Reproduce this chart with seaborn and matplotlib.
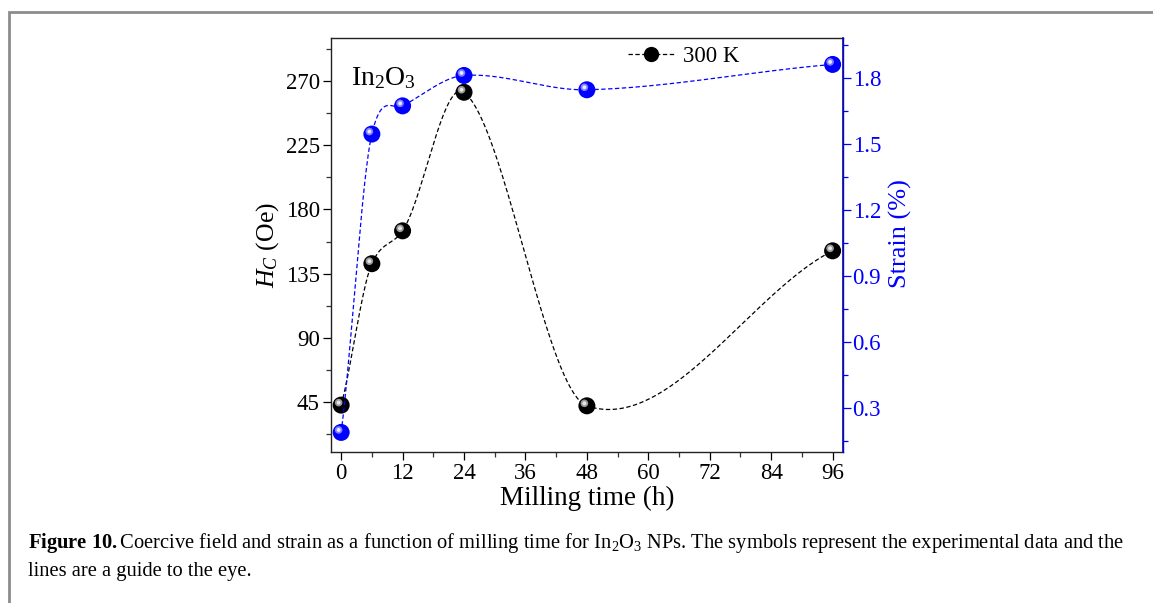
import numpy as np
import matplotlib
matplotlib.use("Agg")
import matplotlib.pyplot as plt
import matplotlib.transforms as mtransforms
from matplotlib.lines import Line2D
from matplotlib.patches import Rectangle
import seaborn as sns

# data
milling_time = [0, 6, 12, 24, 48, 96]
hc_300k = [43, 142, 165, 262, 42.5, 151]
strain = [0.19, 1.544, 1.672, 1.81, 1.745, 1.86]

x_ticks = [0, 12, 24, 36, 48, 60, 72, 84, 96]
hc_ticks = [45, 90, 135, 180, 225, 270]
strain_ticks = [0.3, 0.6, 0.9, 1.2, 1.5, 1.8]

BLUE = "#0000ff"


def guide_curve(x, y, xs, tension=0.8):
    # cardinal-spline style cubic Hermite through the points (guide to the eye)
    x = np.asarray(x, float)
    y = np.asarray(y, float)
    n = len(x)
    m = np.empty(n)
    m[0] = (y[1] - y[0]) / (x[1] - x[0])
    m[-1] = (y[-1] - y[-2]) / (x[-1] - x[-2])
    m[1:-1] = (y[2:] - y[:-2]) / (x[2:] - x[:-2])
    m *= tension
    idx = np.clip(np.searchsorted(x, xs) - 1, 0, n - 2)
    h = x[idx + 1] - x[idx]
    t = (xs - x[idx]) / h
    h00 = 2 * t**3 - 3 * t**2 + 1
    h10 = t**3 - 2 * t**2 + t
    h01 = -2 * t**3 + 3 * t**2
    h11 = t**3 - t**2
    return h00 * y[idx] + h10 * h * m[idx] + h01 * y[idx + 1] + h11 * h * m[idx + 1]


sns.set_theme(style="ticks")
plt.rcParams["font.family"] = ["Liberation Serif", "DejaVu Serif"]
plt.rcParams["mathtext.fontset"] = "custom"
plt.rcParams["mathtext.rm"] = "Liberation Serif"
plt.rcParams["mathtext.it"] = "Liberation Serif:italic"
plt.rcParams["mathtext.bf"] = "Liberation Serif:bold"
plt.rcParams["text.color"] = "black"
plt.rcParams["axes.labelcolor"] = "black"

fig = plt.figure(figsize=(11.53, 6.03), dpi=100)
ax = fig.add_axes([0.287, 0.250, 0.444, 0.687])
ax2 = ax.twinx()

xs = np.linspace(0, 96, 800)
dash = (0, (3.5, 2))

# Hc curve + spheres
sns.lineplot(x=xs, y=guide_curve(milling_time, hc_300k, xs), ax=ax,
             color="black", lw=0.9, linestyle=dash)
sns.scatterplot(x=milling_time, y=hc_300k, ax=ax, s=150, color="black",
                edgecolor="none", zorder=3)
hl = mtransforms.offset_copy(ax.transData, fig=fig, x=-2.5, y=2.5, units="dots")
sns.scatterplot(x=milling_time, y=hc_300k, ax=ax, s=30, color="#9a9a9a",
                edgecolor="none", transform=hl, zorder=4)
sns.scatterplot(x=milling_time, y=hc_300k, ax=ax, s=8, color="#e6e6e6",
                edgecolor="none", transform=hl, zorder=5)

# strain curve + spheres
sns.lineplot(x=xs, y=guide_curve(milling_time, strain, xs), ax=ax2,
             color=BLUE, lw=0.9, linestyle=dash)
sns.scatterplot(x=milling_time, y=strain, ax=ax2, s=150, color=BLUE,
                edgecolor="none", zorder=3)
hl2 = mtransforms.offset_copy(ax2.transData, fig=fig, x=-2.5, y=2.5, units="dots")
sns.scatterplot(x=milling_time, y=strain, ax=ax2, s=30, color="#8080ff",
                edgecolor="none", transform=hl2, zorder=4)
sns.scatterplot(x=milling_time, y=strain, ax=ax2, s=8, color="#e8e8ff",
                edgecolor="none", transform=hl2, zorder=5)

ax.set_xlim(-2, 98)
ax.set_ylim(10, 300)
ax2.set_ylim(0.1, 1.98)

ax.set_xticks(x_ticks)
ax.set_xticks(np.arange(6, 96, 12), minor=True)
ax.set_yticks(hc_ticks)
ax.set_yticks(np.arange(22.5, 300, 45), minor=True)
ax2.set_yticks(strain_ticks)
ax2.set_yticks(np.arange(0.15, 1.98, 0.3), minor=True)

ax.tick_params(which="major", length=6, width=0.9, labelsize=16.5, direction="out",
               colors="black", pad=2)
ax.tick_params(which="minor", length=3.5, width=0.9, direction="out", colors="#333333")
ax.tick_params(axis="x", which="both", top=False)
ax2.tick_params(which="major", length=6, width=0.9, labelsize=16.5, direction="out",
                colors=BLUE, pad=1)
ax2.tick_params(which="minor", length=3.5, width=0.9, direction="out", colors=BLUE)

for s in ["left", "bottom", "top"]:
    ax.spines[s].set_color("#222222")
    ax.spines[s].set_linewidth(1.0)
ax2.spines["right"].set_color(BLUE)
ax2.spines["right"].set_linewidth(1.0)
ax2.spines["left"].set_visible(False)
ax2.spines["top"].set_visible(False)
ax2.spines["bottom"].set_visible(False)

ax.set_xlabel("Milling time (h)", fontsize=19.5, labelpad=1)
ax.set_ylabel("$H_C$ (Oe)", fontsize=18.5)
ax.yaxis.set_label_coords(-0.097, 0.5)
ax2.set_ylabel("Strain (%)", fontsize=19, color=BLUE)
ax2.yaxis.set_label_coords(1.09, 0.527)

ax.text(0.04, 0.935, "In$_2$O$_3$", transform=ax.transAxes, fontsize=20,
        va="top", ha="left")

handle = Line2D([], [], color="black", lw=0.9, linestyle=dash, marker="o",
                markersize=11, markerfacecolor="black", markeredgecolor="none")
ax.legend([handle], ["300 K"], loc="center", bbox_to_anchor=(0.69, 0.955),
          frameon=False, fontsize=16.5, handlelength=2.0, handletextpad=0.4,
          borderpad=0)

# gray page frame (only top and left edges visible in the crop)
fig.patches.append(Rectangle((9 / 1153, -0.1), 1.2, 1 - 12 / 603 + 0.1,
                             transform=fig.transFigure, fill=False,
                             edgecolor="#8c8c8c", lw=2.0))

cap1 = (r"$\mathbf{Figure\ 10.}$Coercive field and strain as a function of milling time for "
        r"In$_2$O$_3$ NPs. The symbols represent the experimental data and the")
fig.text(28 / 1153, 1 - 548 / 603, cap1, fontsize=14.75, ha="left", va="baseline")
fig.text(28 / 1153, 1 - 576 / 603, "lines are a guide to the eye.", fontsize=14.75,
         ha="left", va="baseline")

fig.savefig("out.png", dpi=100)
